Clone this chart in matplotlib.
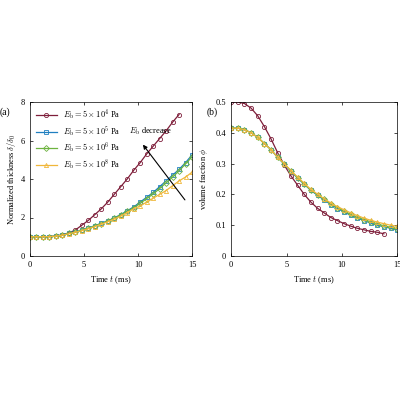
import matplotlib.pyplot as plt
import numpy as np

plt.rcParams['font.family'] = 'Liberation Serif'
plt.rcParams['mathtext.fontset'] = 'cm'
plt.rcParams['font.size'] = 6

t_red = np.arange(24) * 0.6
t_all = np.arange(26) * 0.6

# (a) normalized thickness
thk_red = [1, 1, 1, 1.01, 1.04, 1.1, 1.2, 1.35, 1.6, 1.85, 2.15, 2.45, 2.8, 3.2,
           3.6, 4.0, 4.45, 4.85, 5.3, 5.7, 6.1, 6.5, 6.95, 7.35]
thk_blue = [1, 1, 1, 1.01, 1.03, 1.08, 1.18, 1.25, 1.35, 1.45, 1.57, 1.7, 1.83,
            1.98, 2.15, 2.35, 2.55, 2.8, 3.05, 3.3, 3.6, 3.9, 4.2, 4.5, 4.85, 5.25]
thk_green = [1, 1, 1, 1.01, 1.03, 1.08, 1.17, 1.24, 1.34, 1.44, 1.56, 1.68, 1.81,
             1.96, 2.12, 2.32, 2.5, 2.73, 2.98, 3.22, 3.5, 3.8, 4.1, 4.42, 4.78, 5.15]
thk_yellow = [1, 1, 1, 1.01, 1.03, 1.08, 1.16, 1.23, 1.32, 1.42, 1.53, 1.65, 1.78,
              1.92, 2.07, 2.25, 2.45, 2.6, 2.8, 3.0, 3.2, 3.4, 3.65, 3.9, 4.1, 4.35]

# (b) volume fraction
phi_red = [0.5, 0.5, 0.495, 0.48, 0.455, 0.42, 0.38, 0.335, 0.295, 0.26, 0.23, 0.2,
           0.175, 0.155, 0.14, 0.125, 0.115, 0.105, 0.097, 0.09, 0.085, 0.08, 0.077, 0.072]
phi_blue = [0.415, 0.415, 0.41, 0.4, 0.385, 0.365, 0.345, 0.32, 0.298, 0.275, 0.253,
            0.233, 0.213, 0.197, 0.182, 0.167, 0.154, 0.143, 0.132, 0.123, 0.115,
            0.107, 0.1, 0.095, 0.09, 0.085]
phi_green = [0.415, 0.415, 0.41, 0.4, 0.385, 0.365, 0.345, 0.32, 0.299, 0.276, 0.254,
             0.234, 0.214, 0.199, 0.184, 0.169, 0.157, 0.146, 0.135, 0.126, 0.118,
             0.111, 0.104, 0.098, 0.093, 0.088]
phi_yellow = [0.415, 0.415, 0.41, 0.4, 0.385, 0.365, 0.345, 0.32, 0.3, 0.277, 0.256,
              0.236, 0.216, 0.201, 0.186, 0.172, 0.16, 0.15, 0.14, 0.131, 0.123,
              0.116, 0.11, 0.105, 0.1, 0.096]

labels = [r'$E_{\mathrm{b}}=5\times10^{4}$ Pa', r'$E_{\mathrm{b}}=5\times10^{5}$ Pa',
          r'$E_{\mathrm{b}}=5\times10^{6}$ Pa', r'$E_{\mathrm{b}}=5\times10^{8}$ Pa']
colors = ['#7E1E3A', '#1F7FC0', '#6DB33F', '#F0B73A']
markers = ['o', 's', 'D', '^']

fig = plt.figure(figsize=(4, 4), dpi=100)
ax1 = fig.add_axes([0.075, 0.36, 0.405, 0.385])
ax2 = fig.add_axes([0.578, 0.36, 0.415, 0.385])

series_a = [(t_red, thk_red), (t_all, thk_blue), (t_all, thk_green), (t_all, thk_yellow)]
series_b = [(t_red, phi_red), (t_all, phi_blue), (t_all, phi_green), (t_all, phi_yellow)]
for i in range(4):
    ax1.plot(*series_a[i], color=colors[i], marker=markers[i], ms=3, mfc='none',
             mew=0.6, lw=0.9, label=labels[i])
    ax2.plot(*series_b[i], color=colors[i], marker=markers[i], ms=3, mfc='none',
             mew=0.6, lw=0.9)

ax1.set_xlim(0, 15)
ax1.set_ylim(0, 8)
ax1.set_xticks([0, 5, 10, 15])
ax1.set_yticks([0, 2, 4, 6, 8])
ax1.set_xlabel(r'Time $t$ (ms)')
ax1.set_ylabel(r'Normalized thickness $\delta/\delta_0$', labelpad=2)
ax1.legend(loc='upper left', frameon=False, fontsize=6, handlelength=2.5,
           borderaxespad=0.3, labelspacing=0.3)
ax1.annotate('', xy=(10.3, 5.9), xytext=(14.5, 2.8),
             arrowprops=dict(arrowstyle='-|>', color='black', lw=0.8))
ax1.text(9.2, 6.35, r'$E_{\mathrm{b}}$ decrease', fontsize=6)
ax1.text(-0.19, 0.92, '(a)', transform=ax1.transAxes, fontsize=7)

ax2.set_xlim(0, 15)
ax2.set_ylim(0, 0.5)
ax2.set_xticks([0, 5, 10, 15])
ax2.set_yticks([0, 0.1, 0.2, 0.3, 0.4, 0.5])
ax2.set_yticklabels(['0', '0.1', '0.2', '0.3', '0.4', '0.5'])
ax2.set_xlabel(r'Time $t$ (ms)')
ax2.set_ylabel(r'volume fraction $\phi$')
ax2.text(-0.15, 0.92, '(b)', transform=ax2.transAxes, fontsize=7)

for ax in (ax1, ax2):
    ax.tick_params(direction='in', length=2, width=0.5, top=True, right=True, labelsize=6)
    for s in ax.spines.values():
        s.set_linewidth(0.5)

fig.savefig('out.png', dpi=100)
